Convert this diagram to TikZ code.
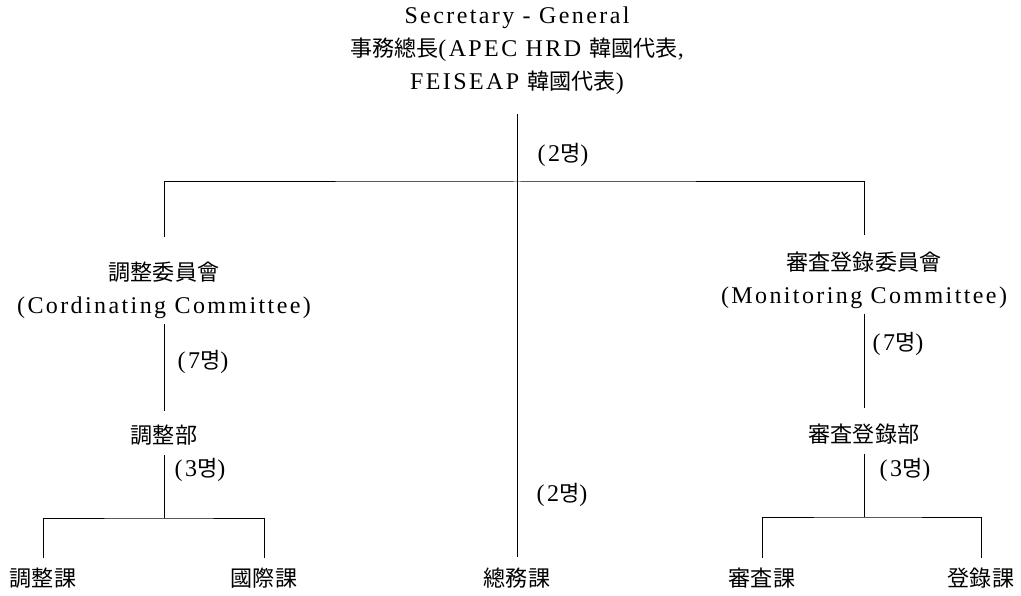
\documentclass[tikz,border=0pt]{standalone}
\usepackage{fontspec}
\setmainfont{Liberation Serif}[LetterSpace=10]
\newfontfamily\krfont{Noto Sans CJK KR}[Scale=0.92]
\usetikzlibrary{positioning}
\newcommand{\hanja}[1]{{\krfont #1}}

\begin{document}
\begin{tikzpicture}[x=1pt, y=-1pt, font=\fontsize{24}{33}\selectfont,
    org/.style={line width=1pt},
    lbl/.style={inner sep=0pt, align=center}]
\useasboundingbox (0,0) rectangle (1021,596);

% top of the chart
\node[lbl] (sg) at (517,51) {Secretary - General\\
    \hanja{事務總長}(APEC HRD \hanja{韓國代表},\\
    FEISEAP \hanja{韓國代表})};
\node[lbl] (sgnum) at (563,155) {(2\hanja{명})};
\coordinate (bar) at (517,182);

% the two committees
\node[lbl] (cc) at (164,290) {\hanja{調整委員會}\\ (Cordinating Committee)};
\node[lbl] (mc) at (864,280) {\hanja{審査登錄委員會}\\ (Monitoring Committee)};
\node[lbl] (ccnum) at (203,362) {(7\hanja{명})};
\node[lbl] (mcnum) at (898,344) {(7\hanja{명})};

% departments
\node[lbl] (cd) at (164,435) {\hanja{調整部}};
\node[lbl] (md) at (864,434) {\hanja{審査登錄部}};
\node[lbl] (cdnum) at (200,470) {(3\hanja{명})};
\node[lbl] (mdnum) at (905,470) {(3\hanja{명})};
\node[lbl] (gennum) at (562,495) {(2\hanja{명})};
\coordinate (cbar) at (164,518);
\coordinate (mbar) at (864,517);

% sections
\node[lbl] (c1) at (43,578) {\hanja{調整課}};
\node[lbl] (c2) at (264,578) {\hanja{國際課}};
\node[lbl] (gen) at (517,578) {\hanja{總務課}};
\node[lbl] (m1) at (762,578) {\hanja{審査課}};
\node[lbl] (m2) at (981,578) {\hanja{登錄課}};

% lines
\draw[org, shorten <=19pt, shorten >=11pt] (sg.south) -- (gen.north);
\draw[org] ([yshift=24pt]cc.north) |- (bar) -| ([yshift=16pt]mc.north);
\draw[org, shorten <=5pt, shorten >=14pt] (cc.south) -- (cd.north);
\draw[org, shorten <=5pt, shorten >=16pt] (mc.south) -- (md.north);
\draw[org, shorten <=10pt] (cd.south) -- (cbar);
\draw[org, shorten <=10pt] (md.south) -- (mbar);
\draw[org, shorten <=10pt, shorten >=10pt] (c1.north) |- (cbar) -| (c2.north);
\draw[org, shorten <=10pt, shorten >=10pt] (m1.north) |- (mbar) -| (m2.north);
\end{tikzpicture}
\end{document}
